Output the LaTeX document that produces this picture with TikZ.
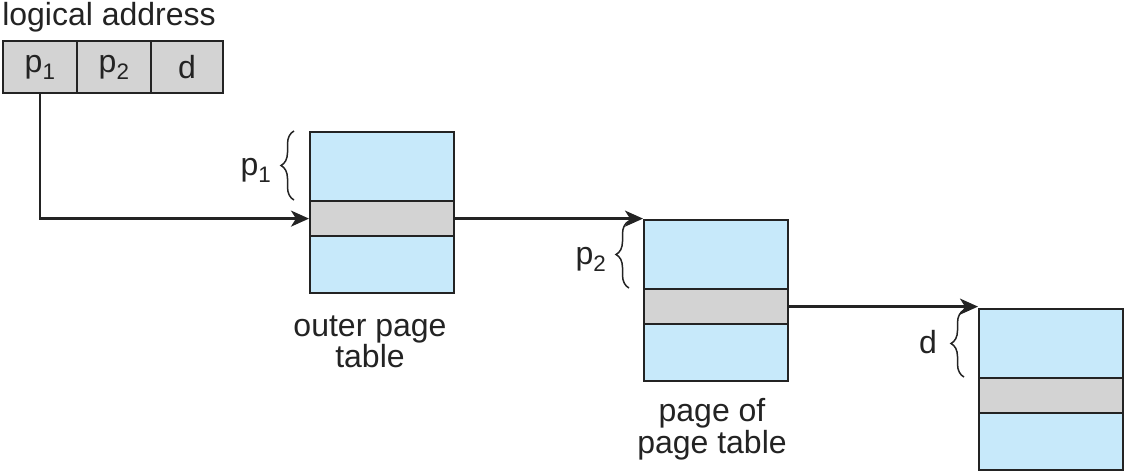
\documentclass[tikz,border=0pt]{standalone}
\usepackage{fontspec}
\setmainfont{Liberation Sans}
\usetikzlibrary{arrows.meta,decorations.pathreplacing}
\definecolor{tblue}{RGB}{199,233,250}
\definecolor{tgray}{RGB}{211,211,211}
\definecolor{tline}{RGB}{35,35,35}
\definecolor{ttext}{RGB}{35,35,35}
\tikzset{
  cellbox/.style={draw=tline, line width=2.2pt, fill=tgray, minimum height=52pt, inner sep=0pt, text=ttext, font=\fontsize{32}{36}\selectfont},
  tablebox/.style={draw=tline, line width=2.2pt, fill=tblue, minimum width=144pt, inner sep=0pt, anchor=north west},
  bandbox/.style={draw=tline, line width=2.2pt, fill=tgray, minimum width=144pt, minimum height=35pt, inner sep=0pt, anchor=north west},
  lbl/.style={text=ttext, font=\fontsize{32}{32}\selectfont, align=center, inner sep=0pt},
  conn/.style={draw=tline, line width=2.4pt, -{Stealth[length=18pt,width=16pt,inset=5pt]}},
  bracestyle/.style={draw=tline, line width=1.5pt, decorate, decoration={brace, amplitude=13pt}},
}
\begin{document}
\begin{tikzpicture}[x=1pt,y=-1pt]
\useasboundingbox (0,0) rectangle (1124,471);
% logical address
\node[lbl] (la) at (109,17) {logical address};
\node[cellbox, minimum width=74pt, anchor=north west] (c1) at (2,40) {p\textsubscript{1}};
\node[cellbox, minimum width=74pt, anchor=north west] (c2) at (76,40) {p\textsubscript{2}};
\node[cellbox, minimum width=72pt, anchor=north west] (c3) at (150,40) {d};
% outer page table
\node[tablebox, minimum height=161pt] (t1) at (309,131) {};
\node[bandbox] (b1) at (309,200) {};
\node[lbl] (l1) at (370,342) {outer page\\[-1pt]table};
% page of page table
\node[tablebox, minimum height=161pt] (t2) at (643,219) {};
\node[bandbox] (b2) at (643,288) {};
\node[lbl] (l2) at (712,429) {page of\\[0pt]page table};
% page
\node[tablebox, minimum height=161pt] (t3) at (978,308) {};
\node[bandbox] (b3) at (978,377) {};
% braces
\coordinate (br1a) at (294,200);
\coordinate (br1b) at (294,131);
\draw[bracestyle] (br1a) -- (br1b);
\node[lbl] (p1l) at (256,170) {p\textsubscript{1}};
\coordinate (br2a) at (629,288);
\coordinate (br2b) at (629,221);
\draw[bracestyle] (br2a) -- (br2b);
\node[lbl] (p2l) at (591,259) {p\textsubscript{2}};
\coordinate (br3a) at (964,377);
\coordinate (br3b) at (964,310);
\draw[bracestyle] (br3a) -- (br3b);
\node[lbl] (dl) at (928,342) {d};
% connectors
\draw[conn] (c1.south) |- (b1.west);
\draw[conn] (b1.east) -- (b1.east -| t2.west);
\draw[conn] (b2.east) -- (b2.east -| t3.west);
\end{tikzpicture}
\end{document}
